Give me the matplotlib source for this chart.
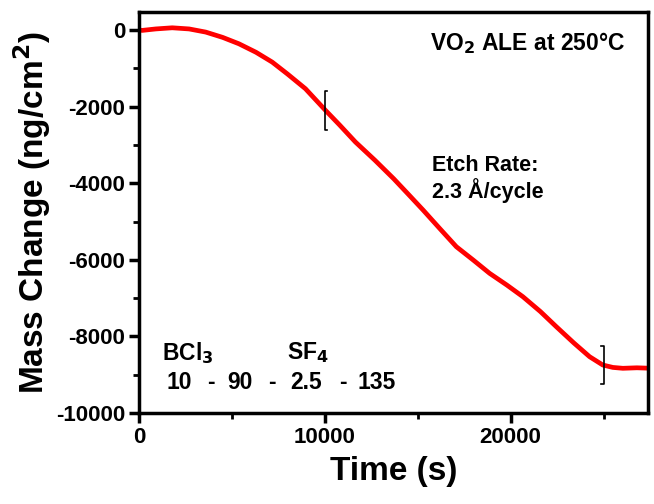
import matplotlib.pyplot as plt
from matplotlib.ticker import MultipleLocator

plt.rcParams['font.family'] = ['Liberation Sans', 'DejaVu Sans']
plt.rcParams['font.weight'] = 'bold'
plt.rcParams['mathtext.default'] = 'bf'
plt.rcParams['axes.unicode_minus'] = False

# QCM trace read at a set of times (s) -> mass change (ng/cm^2)
time_s = [0, 180, 900, 1790, 2700, 3590, 4500, 5380, 6300, 7170, 8000, 8960,
          10040, 10800, 11650, 12700, 13710, 14500, 15290, 16200, 17080,
          18000, 18870, 19800, 20660, 21600, 22460, 23400, 24250, 24960,
          25500, 26040, 26800, 27400]
mass = [0, -8, 30, 60, 30, -52, -190, -358, -580, -836, -1150, -1532,
        -2097, -2480, -2924, -3400, -3883, -4290, -4700, -5190, -5658,
        -6010, -6353, -6660, -6963, -7350, -7747, -8170, -8530, -8747,
        -8810, -8833, -8820, -8830]

# cycle markers: (time, low, high, tick direction)
brackets = [(10000, -2600, -1600, 1), (25000, -9250, -8250, -1)]

# pulse/purge sequence (s), laid out along one line
recipe = ['10', '-', '90', '-', '2.5', '-', '135']
recipe_x = [0.055, 0.134, 0.173, 0.253, 0.297, 0.393, 0.430]

fig = plt.figure(figsize=(6.54, 5.04), dpi=100)
ax = fig.add_axes([0.2125, 0.1806, 0.7785, 0.7954])

ax.plot(time_s, mass, color='#ff0000', lw=3.4, solid_joinstyle='round')

for t, lo, hi, d in brackets:
    w = 130 * d
    ax.plot([t + w, t, t, t + w], [lo, lo, hi, hi], color='black', lw=1.2)

ax.set_xlim(0, 27400)
ax.set_ylim(-10000, 470)
ax.xaxis.set_major_locator(MultipleLocator(10000))
ax.xaxis.set_minor_locator(MultipleLocator(5000))
ax.yaxis.set_major_locator(MultipleLocator(2000))
ax.yaxis.set_minor_locator(MultipleLocator(1000))

for s in ax.spines.values():
    s.set_linewidth(2.5)
ax.tick_params(which='major', direction='out', length=7, width=2.5,
               labelsize=16, pad=3)
ax.tick_params(which='minor', direction='out', length=4, width=2)
for lab in ax.get_xticklabels() + ax.get_yticklabels():
    lab.set_fontweight('bold')

ax.set_xlabel('Time (s)', fontsize=24, fontweight='bold', labelpad=6)
ax.set_ylabel('Mass Change (ng/cm$^2$)', fontsize=24, fontweight='bold',
              labelpad=2)

ax.text(0.955, 0.923, 'VO$_2$ ALE at 250\u00b0C', transform=ax.transAxes,
        ha='right', va='center', fontsize=16.5, fontweight='bold')
ax.text(0.575, 0.583, 'Etch Rate:\n2.3 \u00c5/cycle', transform=ax.transAxes,
        ha='left', va='center', fontsize=15.5, fontweight='bold',
        linespacing=1.12)
ax.text(0.045, 0.15, 'BCl$_3$', transform=ax.transAxes, ha='left',
        va='center', fontsize=16.5, fontweight='bold')
ax.text(0.290, 0.15, 'SF$_4$', transform=ax.transAxes, ha='left',
        va='center', fontsize=16.5, fontweight='bold')
for s, xf in zip(recipe, recipe_x):
    ax.text(xf, 0.075, s, transform=ax.transAxes, ha='left', va='center',
            fontsize=16.5, fontweight='bold')

fig.savefig('out.png', dpi=100)
